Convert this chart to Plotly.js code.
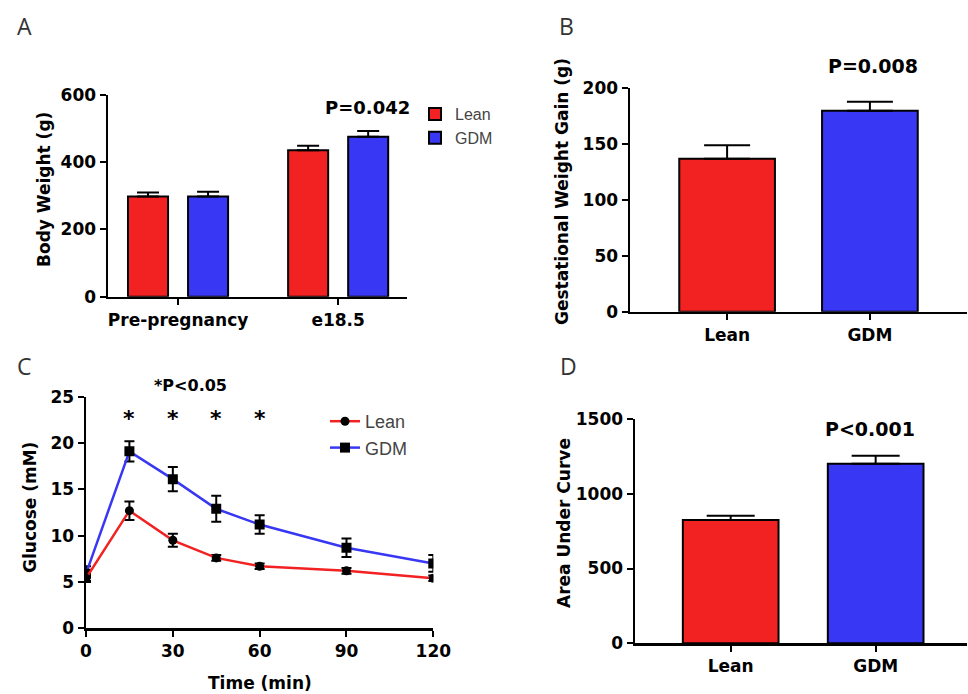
<!DOCTYPE html>
<html><head><meta charset="utf-8">
<script src="https://cdn.plot.ly/plotly-3.0.1.min.js"></script>
<style>html,body{margin:0;padding:0;background:#fff}#chart{width:968px;height:694px}</style>
</head><body><div id="chart"></div>
<script>
// ---- Data ----
const groupsA = ['Pre-pregnancy', 'e18.5'];
const leanWeight = [298, 436];
const leanWeightErr = [12, 13];
const gdmWeight = [298, 476];
const gdmWeightErr = [14, 17];

const groupsB = ['Lean', 'GDM'];
const weightGain = [137, 180];
const weightGainErr = [12, 8];

const timeMin = [0, 15, 30, 45, 60, 90, 120];
const leanGlucose = [5.4, 12.7, 9.5, 7.6, 6.7, 6.2, 5.4];
const leanGlucoseErr = [0.4, 1.0, 0.7, 0.3, 0.3, 0.3, 0.3];
const gdmGlucose = [5.9, 19.1, 16.1, 12.9, 11.2, 8.7, 7.0];
const gdmGlucoseErr = [0.8, 1.1, 1.3, 1.4, 1.0, 1.0, 0.9];
const sigTimes = [15, 30, 45, 60];

const groupsD = ['Lean', 'GDM'];
const auc = [825, 1200];
const aucErr = [28, 55];

// ---- Styling ----
const W = 968, H = 694;
const px = x => x / W, py = y => 1 - y / H;
const RED = '#f22222', BLUE = '#3838f4';
const BOLD = {family: 'DejaVu Sans', size: 17, weight: 'bold', color: 'black'};

function ax(extra) {
  return Object.assign({
    showline: true, linecolor: 'black', linewidth: 2.5,
    ticks: 'outside', ticklen: 6, tickwidth: 2, tickcolor: 'black',
    showgrid: false, zeroline: false, fixedrange: true,
    tickfont: BOLD
  }, extra);
}

const traces = [
  {type: 'bar', x: groupsA, y: leanWeight, name: 'Lean', xaxis: 'x', yaxis: 'y',
   width: 0.25, offset: -0.3125, legend: 'legend',
   marker: {color: RED, line: {color: 'black', width: 2}},
   error_y: {type: 'data', symmetric: false, array: leanWeightErr, arrayminus: [0, 0], color: 'black', thickness: 2, width: 11}},
  {type: 'bar', x: groupsA, y: gdmWeight, name: 'GDM', xaxis: 'x', yaxis: 'y',
   width: 0.25, offset: 0.0625, legend: 'legend',
   marker: {color: BLUE, line: {color: 'black', width: 2}},
   error_y: {type: 'data', symmetric: false, array: gdmWeightErr, arrayminus: [0, 0], color: 'black', thickness: 2, width: 11}},
  {type: 'bar', x: groupsB, y: weightGain, xaxis: 'x2', yaxis: 'y2', width: 0.67, showlegend: false,
   marker: {color: [RED, BLUE], line: {color: 'black', width: 2}},
   error_y: {type: 'data', symmetric: false, array: weightGainErr, arrayminus: [0, 0], color: 'black', thickness: 2, width: 23}},
  {type: 'scatter', mode: 'lines+markers', x: timeMin, y: gdmGlucose, name: 'GDM', xaxis: 'x3', yaxis: 'y3', legend: 'legend2',
   line: {color: BLUE, width: 2.5}, marker: {symbol: 'square', size: 10, color: 'black'},
   error_y: {type: 'data', array: gdmGlucoseErr, color: 'black', thickness: 2, width: 5}},
  {type: 'scatter', mode: 'lines+markers', x: timeMin, y: leanGlucose, name: 'Lean', xaxis: 'x3', yaxis: 'y3', legend: 'legend2',
   line: {color: RED, width: 2.5}, marker: {symbol: 'circle', size: 9, color: 'black'},
   error_y: {type: 'data', array: leanGlucoseErr, color: 'black', thickness: 2, width: 5}},
  {type: 'bar', x: groupsD, y: auc, xaxis: 'x4', yaxis: 'y4', width: 0.66, showlegend: false,
   marker: {color: [RED, BLUE], line: {color: 'black', width: 2}},
   error_y: {type: 'data', symmetric: false, array: aucErr, arrayminus: [0, 0], color: 'black', thickness: 2, width: 24}}
];

function ann(text, x, y, font, extra) {
  return Object.assign({text: text, x: px(x), y: py(y), xref: 'paper', yref: 'paper',
    showarrow: false, xanchor: 'center', yanchor: 'middle', font: font}, extra || {});
}
const LABEL = {family: 'Open Sans', size: 23, color: '#333'};
const TITLE = {family: 'DejaVu Sans', size: 17, weight: 'bold', color: 'black'};
const PV = {family: 'DejaVu Sans', size: 18, weight: 'bold', color: 'black'};

const annotations = [
  ann('A', 24, 26, LABEL), ann('B', 566, 26, LABEL), ann('C', 24, 366, LABEL), ann('D', 568, 366, LABEL),
  ann('Body Weight (g)', 44, 190, TITLE, {textangle: -90}),
  ann('Gestational Weight Gain (g)', 562, 192, TITLE, {textangle: -90}),
  ann('Glucose (mM)', 30, 508, TITLE, {textangle: -90}),
  ann('Area Under Curve', 564, 523, TITLE, {textangle: -90}),
  ann('Time (min)', 260, 683, TITLE),
  ann('P=0.042', 367, 107, PV),
  ann('P=0.008', 873, 66, {family: 'DejaVu Sans', size: 19, weight: 'bold', color: 'black'}),
  ann('P<0.001', 870, 429, {family: 'DejaVu Sans', size: 19, weight: 'bold', color: 'black'}),
  ann('*P<0.05', 190, 385, {family: 'DejaVu Sans', size: 16, weight: 'bold', color: 'black'})
];
sigTimes.forEach(t => annotations.push({text: '*', x: t, y: 22.6, xref: 'x3', yref: 'y3', showarrow: false,
  font: {family: 'DejaVu Sans', size: 22, weight: 'bold', color: 'black'}}));

const layout = {
  width: W, height: H, margin: {l: 0, r: 0, t: 0, b: 0},
  paper_bgcolor: 'white', plot_bgcolor: 'rgba(0,0,0,0)',
  barmode: 'overlay',
  xaxis: ax({domain: [px(108), px(407)], anchor: 'y', range: [-0.4375, 1.43], type: 'category'}),
  yaxis: ax({domain: [py(296.7), py(95)], anchor: 'x', range: [0, 600], dtick: 200}),
  xaxis2: ax({domain: [px(630), px(967)], anchor: 'y2', range: [-0.68, 1.68], type: 'category'}),
  yaxis2: ax({domain: [py(311.7), py(88.3)], anchor: 'x2', range: [0, 200], dtick: 50}),
  xaxis3: ax({domain: [px(86), px(433.3)], anchor: 'y3', range: [0, 120], tickvals: [0, 30, 60, 90, 120]}),
  yaxis3: ax({domain: [py(628.3), py(396.7)], anchor: 'x3', range: [0, 25], dtick: 5}),
  xaxis4: ax({domain: [px(635), px(967)], anchor: 'y4', range: [-0.66, 1.63], type: 'category'}),
  yaxis4: ax({domain: [py(643.3), py(419)], anchor: 'x4', range: [0, 1500], dtick: 500}),
  legend: {x: px(415), y: py(97), xanchor: 'left', yanchor: 'top', bgcolor: 'rgba(0,0,0,0)',
    font: {family: 'Liberation Sans', size: 16, color: '#444'}, traceorder: 'normal'},
  legend2: {x: px(325), y: py(403), xanchor: 'left', yanchor: 'top', bgcolor: 'rgba(0,0,0,0)',
    font: {family: 'Liberation Sans', size: 18, color: '#444'}, traceorder: 'reversed'},
  annotations: annotations,
  showlegend: true
};

Plotly.newPlot('chart', traces, layout, {displayModeBar: false, staticPlot: true});
</script>
</body></html>
